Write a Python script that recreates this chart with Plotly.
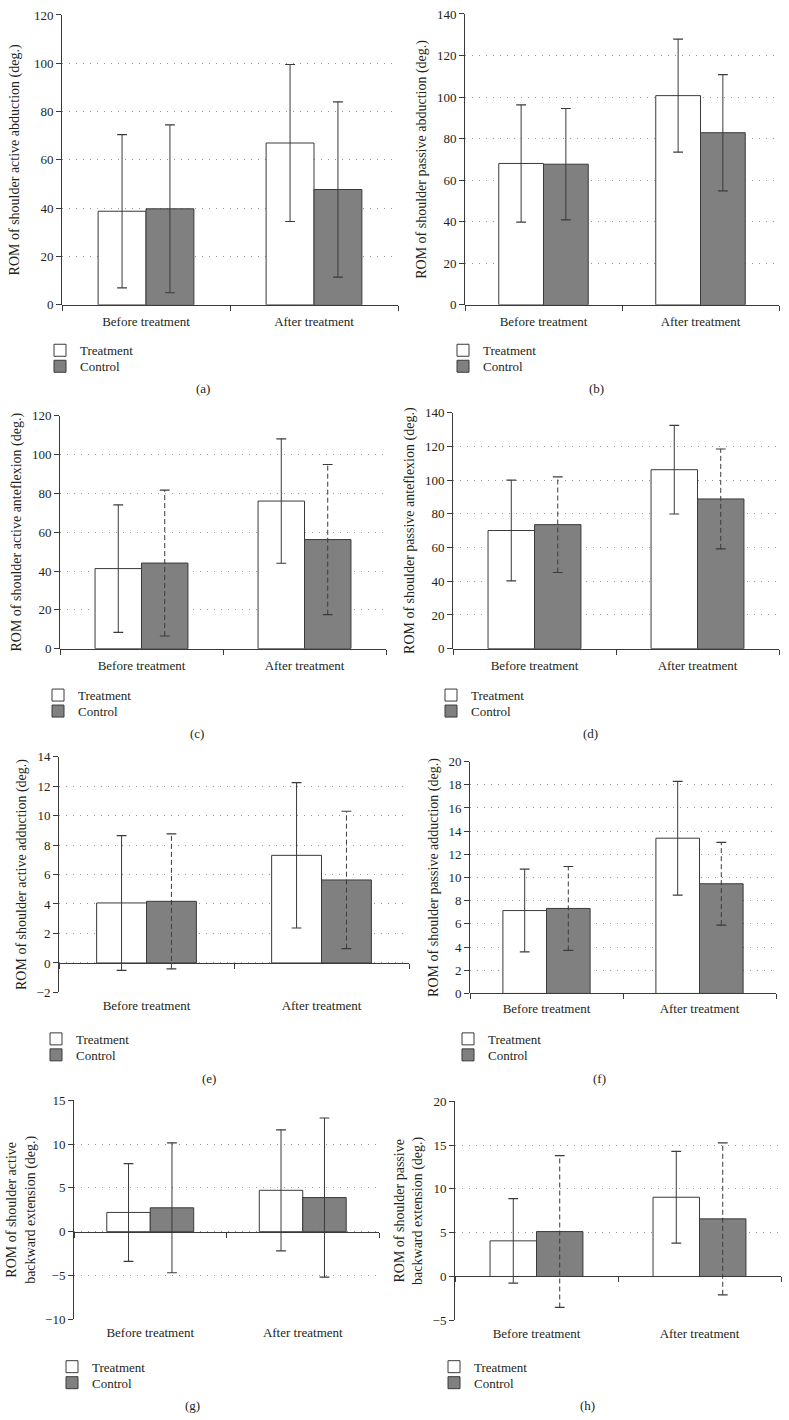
import plotly.graph_objects as go

# ---------------- data ----------------
categories = ["Before treatment", "After treatment"]
series_names = ["Treatment", "Control"]

# (a) active abduction
a_treatment_mean = [38.75, 67.0]
a_treatment_sd = [31.75, 32.5]
a_control_mean = [39.75, 47.75]
a_control_sd = [34.75, 36.25]
a_yticks = [0, 20, 40, 60, 80, 100, 120]

# (b) passive abduction
b_treatment_mean = [68.05, 100.7]
b_treatment_sd = [28.25, 27.2]
b_control_mean = [67.7, 82.85]
b_control_sd = [26.8, 27.95]
b_yticks = [0, 20, 40, 60, 80, 100, 120, 140]

# (c) active anteflexion
c_treatment_mean = [41.25, 76.05]
c_treatment_sd = [32.85, 32.05]
c_control_mean = [44.1, 56.2]
c_control_sd = [37.6, 38.7]
c_yticks = [0, 20, 40, 60, 80, 100, 120]

# (d) passive anteflexion
d_treatment_mean = [70.1, 106.2]
d_treatment_sd = [29.9, 26.3]
d_control_mean = [73.6, 88.85]
d_control_sd = [28.4, 29.65]
d_yticks = [0, 20, 40, 60, 80, 100, 120, 140]

# (e) active adduction
e_treatment_mean = [4.07, 7.3]
e_treatment_sd = [4.57, 4.93]
e_control_mean = [4.18, 5.63]
e_control_sd = [4.58, 4.66]
e_yticks = [-2, 0, 2, 4, 6, 8, 10, 12, 14]

# (f) passive adduction
f_treatment_mean = [7.15, 13.39]
f_treatment_sd = [3.57, 4.91]
f_control_mean = [7.33, 9.46]
f_control_sd = [3.62, 3.57]
f_yticks = [0, 2, 4, 6, 8, 10, 12, 14, 16, 18, 20]

# (g) active backward extension
g_treatment_mean = [2.2, 4.73]
g_treatment_sd = [5.58, 6.91]
g_control_mean = [2.73, 3.9]
g_control_sd = [7.42, 9.09]
g_yticks = [-10, -5, 0, 5, 10, 15]

# (h) passive backward extension
h_treatment_mean = [4.07, 9.05]
h_treatment_sd = [4.83, 5.25]
h_control_mean = [5.13, 6.58]
h_control_sd = [8.67, 8.67]
h_yticks = [-5, 0, 5, 10, 15, 20]

y_titles = [
    "ROM of shoulder active abduction (deg.)",
    "ROM of shoulder passive abduction (deg.)",
    "ROM of shoulder active anteflexion (deg.)",
    "ROM of shoulder passive anteflexion (deg.)",
    "ROM of shoulder active adduction (deg.)",
    "ROM of shoulder passive adduction (deg.)",
    "ROM of shoulder active<br>backward extension (deg.)",
    "ROM of shoulder passive<br>backward extension (deg.)",
]
panel_labels = ["(a)", "(b)", "(c)", "(d)", "(e)", "(f)", "(g)", "(h)"]

# ---------------- layout / style ----------------
W, H = 789, 1420
FONT = "Liberation Serif, Times New Roman, serif"
TXT = "#231f20"
EDGE = "#3a3a3a"
ERR = "#3a3a3a"
GRID = "#9a9a9a"
CTRL_FILL = "#808080"
BW = 0.285


def fx(p):
    return p / W


def fy(p):
    # small vertical correction measured from the rendered page
    q = (p - 6.0) / 0.990
    return 1 - q / H


# box = (left, right, top, bottom) of plot area in px; leg = (icon centre x, first row centre y)
panels = [
    dict(tm=a_treatment_mean, ts=a_treatment_sd, cm=a_control_mean, cs=a_control_sd, yt=a_yticks,
         dash=False, box=(62, 398, 14, 304), leg=(61, 349), lab=(203, 388), lablen=5, standoff=10),
    dict(tm=b_treatment_mean, ts=b_treatment_sd, cm=b_control_mean, cs=b_control_sd, yt=b_yticks,
         dash=False, box=(465, 779, 13, 304), leg=(464, 349), lab=(596, 388), lablen=5, standoff=6),
    dict(tm=c_treatment_mean, ts=c_treatment_sd, cm=c_control_mean, cs=c_control_sd, yt=c_yticks,
         dash=True, box=(60, 386, 415, 648), leg=(59, 694), lab=(197, 733), lablen=5, standoff=6),
    dict(tm=d_treatment_mean, ts=d_treatment_sd, cm=d_control_mean, cs=d_control_sd, yt=d_yticks,
         dash=True, box=(453, 779, 412, 648), leg=(452, 694), lab=(590, 733), lablen=5, standoff=6),
    dict(tm=e_treatment_mean, ts=e_treatment_sd, cm=e_control_mean, cs=e_control_sd, yt=e_yticks,
         dash=True, box=(59, 409, 756, 992), leg=(57, 1038), lab=(209, 1078), lablen=1, standoff=6),
    dict(tm=f_treatment_mean, ts=f_treatment_sd, cm=f_control_mean, cs=f_control_sd, yt=f_yticks,
         dash=True, box=(470, 776, 761, 993), leg=(469, 1038), lab=(599, 1078), lablen=3, standoff=6),
    dict(tm=g_treatment_mean, ts=g_treatment_sd, cm=g_control_mean, cs=g_control_sd, yt=g_yticks,
         dash=False, box=(74, 379, 1100, 1319), leg=(73, 1366), lab=(192, 1405), lablen=1, standoff=6),
    dict(tm=h_treatment_mean, ts=h_treatment_sd, cm=h_control_mean, cs=h_control_sd, yt=h_yticks,
         dash=True, box=(455, 781, 1101, 1320), leg=(455, 1366), lab=(587, 1405), lablen=1, standoff=6),
]
ROW_GAP = 16

idx = list(range(len(categories)))

fig = go.Figure()
layout = dict(
    width=W, height=H, margin=dict(l=0, r=0, t=0, b=0),
    paper_bgcolor="white", plot_bgcolor="white",
    font=dict(family=FONT, size=13, color=TXT),
    barmode="overlay", annotations=[],
)


def legend_id(n):
    return "legend" if n == 1 else f"legend{n}"


for k, p in enumerate(panels, start=1):
    sfx = "" if k == 1 else str(k)
    xk, yk = f"x{sfx}", f"y{sfx}"
    xo = f"x{k + 8}"
    x0, x1, y0, y1 = p["box"]
    ymin, ymax = p["yt"][0], p["yt"][-1]

    # bars (each series gets its own legend box so the rows can be spaced like the original)
    styles = [dict(color="white", line=dict(color=EDGE, width=1)),
              dict(color=CTRL_FILL, line=dict(color=EDGE, width=1))]
    for j, (means, offs) in enumerate(((p["tm"], -BW), (p["cm"], 0))):
        lid = legend_id(2 * (k - 1) + j + 1)
        fig.add_trace(go.Bar(
            x=idx, y=means, width=BW, offset=offs, name=series_names[j],
            marker=styles[j], xaxis=xk, yaxis=yk, legend=lid, hoverinfo="y"))
        lx, ly = p["leg"]
        layout[lid] = dict(
            x=fx(lx - 21), y=fy(ly + j * ROW_GAP - 14.5), xanchor="left", yanchor="top",
            bgcolor="rgba(0,0,0,0)", borderwidth=0, font=dict(size=13, color=TXT))

    # error bars (mean +/- sd)
    for means, sds, shift, dashed in ((p["tm"], p["ts"], -BW / 2, False),
                                      (p["cm"], p["cs"], BW / 2, p["dash"])):
        ex, ey = [], []
        for i, m, s in zip(idx, means, sds):
            ex += [i + shift, i + shift, None]
            ey += [m - s, m + s, None]
        fig.add_trace(go.Scatter(
            x=ex, y=ey, mode="lines+markers", showlegend=False, hoverinfo="skip",
            line=dict(color=ERR, width=1, dash="5px,3px" if dashed else "solid"),
            marker=dict(symbol="line-ew", size=7, color=ERR, line=dict(color=ERR, width=1.2)),
            xaxis=xo, yaxis=yk))

    dom_x = [fx(x0), fx(x1)]
    dom_y = [fy(y1), fy(y0)]
    zero_pos = dom_y[0] + (0 - ymin) / (ymax - ymin) * (dom_y[1] - dom_y[0])

    layout[f"xaxis{sfx}"] = dict(
        domain=dom_x, anchor=yk, range=[-0.5, 1.5], tickvals=idx, ticktext=categories,
        showline=False, showgrid=False, zeroline=False, ticks="outside",
        ticklen=p["lablen"], tickcolor="rgba(0,0,0,0)", tickfont=dict(size=13, color=TXT),
        fixedrange=True)
    layout[f"xaxis{k + 8}"] = dict(
        overlaying=xk, anchor="free", position=zero_pos, domain=dom_x,
        range=[-0.5, 1.5], tickvals=[-0.5, 0.5, 1.5], ticks="outside", ticklen=5,
        tickcolor=EDGE, tickwidth=1, showline=True, linecolor=EDGE, linewidth=1,
        showticklabels=False, showgrid=False, zeroline=False, fixedrange=True)
    layout[f"yaxis{sfx}"] = dict(
        domain=dom_y, anchor=xk, range=[ymin, ymax], tickvals=p["yt"],
        showline=True, linecolor=EDGE, linewidth=1, ticks="outside", ticklen=5,
        tickcolor=EDGE, tickfont=dict(size=13, color=TXT),
        showgrid=True, gridcolor=GRID, gridwidth=1, griddash="1px,6px", zeroline=False,
        title=dict(text=y_titles[k - 1], font=dict(size=14, color=TXT), standoff=p["standoff"]),
        fixedrange=True)
    layout["annotations"].append(dict(
        text=panel_labels[k - 1], x=fx(p["lab"][0]), y=fy(p["lab"][1]),
        xref="paper", yref="paper", xanchor="center", yanchor="middle",
        showarrow=False, font=dict(size=13, color=TXT)))

fig.update_layout(**layout)
fig.write_html("out.html", config={"displayModeBar": False},
               post_script="document.body.style.margin='0';")
